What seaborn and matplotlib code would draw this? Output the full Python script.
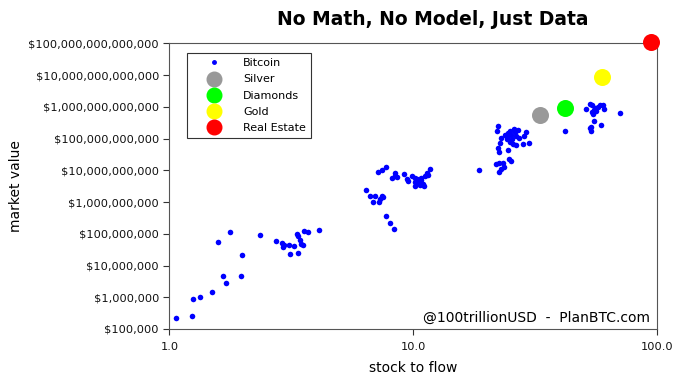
import seaborn as sns
import pandas as pd
import matplotlib.pyplot as plt
from matplotlib.lines import Line2D
from matplotlib.ticker import FuncFormatter, FixedLocator, NullLocator

# Bitcoin monthly points: stock-to-flow vs market value (USD)
btc_sf = [1.07, 1.24, 1.25, 1.34, 1.49, 1.66, 1.71, 1.58, 1.78, 1.97, 1.98, 2.35, 2.74, 2.90,
          2.93, 2.96, 3.10, 3.13, 3.24, 3.35, 3.36, 3.36, 3.44, 3.47, 3.54, 3.57, 3.72, 4.12,
          6.41, 6.64, 6.85, 7.01, 7.23, 7.29, 7.46, 7.52, 7.74, 8.05, 8.38, 7.21, 7.48, 7.74,
          8.20, 8.41, 8.43, 8.59, 9.20, 9.40, 9.57, 9.91, 10.16, 10.33, 10.47, 10.59, 10.64,
          10.81, 10.99, 11.09, 11.22, 11.35, 11.56, 11.69, 10.16, 10.4, 10.6, 10.8, 10.2,
          18.6, 21.8, 22.6, 23.0, 23.4, 23.6, 22.6, 24.7, 25.3, 24.5, 22.4, 22.5, 22.8, 22.1,
          22.2, 23.0, 23.8, 24.2, 24.5, 24.9, 25.3, 25.5, 25.9, 26.2, 26.5, 26.9, 27.1, 25.7,
          26.4, 28.2, 28.5, 29.1, 29.9, 24.9, 24.3,
          41.9, 51.3, 53.0, 54.3, 54.7, 55.2, 55.3, 56.4, 57.3, 58.2, 59.2, 60.1, 60.8, 53.0,
          53.8, 53.5, 70.3, 56.0, 54.0]
btc_mv = [2.3e5, 2.5e5, 8.7e5, 1.0e6, 1.5e6, 4.8e6, 2.8e6, 5.5e7, 1.1e8, 4.6e6, 2.1e7, 9.3e7,
          5.8e7, 5.0e7, 3.9e7, 4.5e7, 4.4e7, 2.3e7, 4.2e7, 9.9e7, 8.7e7, 2.4e7, 6.2e7, 4.9e7,
          4.5e7, 1.26e8, 1.15e8, 1.32e8,
          2.45e9, 1.5e9, 1.0e9, 1.5e9, 1.0e9, 1.2e9, 1.6e9, 1.4e9, 3.5e8, 2.2e8, 1.45e8, 8.9e9,
          1.0e10, 1.3e10, 5.9e9, 8.5e9, 6.6e9, 6.2e9, 7.6e9, 5.2e9, 4.5e9, 6.5e9, 4.4e9, 5.4e9,
          3.9e9, 4.7e9, 3.5e9, 5.6e9, 3.7e9, 3.3e9, 6.8e9, 8.1e9, 6.9e9, 1.07e10, 3.1e9, 5.0e9,
          4.2e9, 4.8e9, 5.8e9,
          1.0e10, 1.55e10, 9.1e9, 1.07e10, 1.66e10, 1.23e10, 1.74e10, 2.3e10, 1.95e10, 4.2e10,
          4.9e10, 3.8e10, 7.1e10, 1.74e11, 2.4e11, 1.07e11, 1.29e11, 1.15e11, 1.48e11, 1.78e11,
          1.29e11, 1.0e11, 1.95e11, 1.66e11, 1.2e11, 1.86e11, 1.05e11, 6.8e10, 6.3e10, 6.8e10,
          1.2e11, 1.55e11, 7.1e10, 7.9e10, 1.0e11,
          1.74e11, 8.7e11, 1.23e12, 1.1e12, 5.9e11, 3.5e11, 7.9e11, 7.1e11, 1.0e12, 1.15e12,
          2.6e11, 1.12e12, 8.3e11, 2.1e11, 1.78e11, 2.3e11, 6.6e11, 8.9e11, 6.8e11]

assets = ["Silver", "Diamonds", "Gold", "Real Estate"]
asset_sf = [33.3, 42.0, 59.7, 95.0]
asset_mv = [5.5e11, 9.0e11, 8.7e12, 1.07e14]
asset_colors = ["#999999", "#00ff00", "#ffff00", "#ff0000"]

x_ticks = [1, 10, 100]
y_ticks = [1e5, 1e6, 1e7, 1e8, 1e9, 1e10, 1e11, 1e12, 1e13, 1e14]

btc = pd.DataFrame({"sf": btc_sf, "mv": btc_mv})

fig = plt.figure(figsize=(6.8, 3.83), dpi=100)
ax = fig.add_axes([0.249, 0.141, 0.717, 0.746])

sns.scatterplot(data=btc, x="sf", y="mv", color="#0000ff", s=16, linewidth=0,
                ax=ax, zorder=3, legend=False)
for name, sf, mv, c in zip(assets, asset_sf, asset_mv, asset_colors):
    sns.scatterplot(x=[sf], y=[mv], color=c, s=150, linewidth=0, ax=ax,
                    zorder=4, clip_on=False, legend=False)

ax.set_xscale("log")
ax.set_yscale("log")
ax.set_xlim(1, 100)
ax.set_ylim(1e5, 1e14)
ax.xaxis.set_major_locator(FixedLocator(x_ticks))
ax.yaxis.set_major_locator(FixedLocator(y_ticks))
ax.xaxis.set_minor_locator(NullLocator())
ax.yaxis.set_minor_locator(NullLocator())
ax.xaxis.set_major_formatter(FuncFormatter(lambda v, p: f"{v:.1f}"))
ax.yaxis.set_major_formatter(FuncFormatter(lambda v, p: f"${v:,.0f}"))
ax.tick_params(labelsize=8.2, length=4, color="#333333", labelcolor="#111111")
ax.tick_params(axis="x", pad=5.5)
for sp in ax.spines.values():
    sp.set_color("#555555")

ax.set_xlabel("stock to flow", fontsize=10, labelpad=6)
ax.set_ylabel("market value", fontsize=10)
ax.yaxis.set_label_coords(-0.30, 0.5)
ax.set_title("No Math, No Model, Just Data", fontsize=13.5, fontweight="bold",
             x=0.54, pad=13)

ax.text(0.985, 0.015, "@100trillionUSD  -  PlanBTC.com", transform=ax.transAxes,
        ha="right", va="bottom", fontsize=10)

# legend
handles = [Line2D([], [], ls="", marker="o", ms=2.5, color="#0000ff", label="Bitcoin")]
for name, c in zip(assets, asset_colors):
    handles.append(Line2D([], [], ls="", marker="o", ms=10.5, color=c, mec=c, label=name))
leg = ax.legend(handles=handles, loc="upper left", bbox_to_anchor=(0.036, 0.965), fontsize=8,
                fancybox=False, edgecolor="#333333", framealpha=1, borderpad=0.45,
                handletextpad=0.6, labelspacing=0.55, handlelength=4.0, borderaxespad=0)
leg.get_frame().set_linewidth(0.8)

fig.savefig("out.png", dpi=100)
